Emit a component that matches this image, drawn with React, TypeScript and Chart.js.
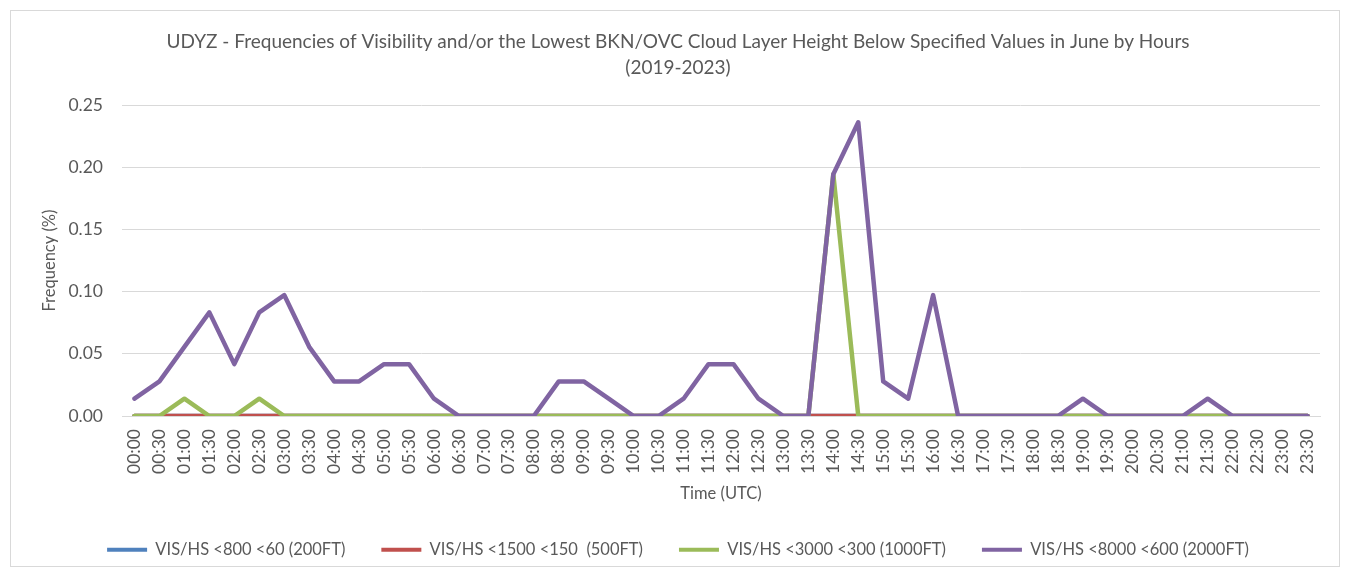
import React, { useEffect, useRef } from "react";
import { Chart, registerables } from "chart.js";
Chart.register(...registerables);

const times = [
  "00:00", "00:30", "01:00", "01:30", "02:00", "02:30", "03:00", "03:30",
  "04:00", "04:30", "05:00", "05:30", "06:00", "06:30", "07:00", "07:30",
  "08:00", "08:30", "09:00", "09:30", "10:00", "10:30", "11:00", "11:30",
  "12:00", "12:30", "13:00", "13:30", "14:00", "14:30", "15:00", "15:30",
  "16:00", "16:30", "17:00", "17:30", "18:00", "18:30", "19:00", "19:30",
  "20:00", "20:30", "21:00", "21:30", "22:00", "22:30", "23:00", "23:30",
];

const vis800 = [
  0, 0, 0, 0, 0, 0, 0, 0, 0, 0, 0, 0, 0, 0, 0, 0,
  0, 0, 0, 0, 0, 0, 0, 0, 0, 0, 0, 0, 0, 0, 0, 0,
  0, 0, 0, 0, 0, 0, 0, 0, 0, 0, 0, 0, 0, 0, 0, 0,
];
const vis1500 = [
  0, 0, 0, 0, 0, 0, 0, 0, 0, 0, 0, 0, 0, 0, 0, 0,
  0, 0, 0, 0, 0, 0, 0, 0, 0, 0, 0, 0, 0, 0, 0, 0,
  0, 0, 0, 0, 0, 0, 0, 0, 0, 0, 0, 0, 0, 0, 0, 0,
];
const vis3000 = [
  0, 0, 0.0139, 0, 0, 0.0139, 0, 0, 0, 0, 0, 0, 0, 0, 0, 0,
  0, 0, 0, 0, 0, 0, 0, 0, 0, 0, 0, 0, 0.1944, 0, 0, 0,
  0, 0, 0, 0, 0, 0, 0, 0, 0, 0, 0, 0, 0, 0, 0, 0,
];
const vis8000 = [
  0.0139, 0.0278, 0.0556, 0.0833, 0.0417, 0.0833, 0.0972, 0.0556,
  0.0278, 0.0278, 0.0417, 0.0417, 0.0139, 0, 0, 0,
  0, 0.0278, 0.0278, 0.0139, 0, 0, 0.0139, 0.0417,
  0.0417, 0.0139, 0, 0, 0.1944, 0.2361, 0.0278, 0.0139,
  0.0972, 0, 0, 0, 0, 0, 0.0139, 0,
  0, 0, 0, 0.0139, 0, 0, 0, 0,
];

const yTicks = [0, 0.05, 0.1, 0.15, 0.2, 0.25];

const seriesNames = [
  "VIS/HS <800 <60 (200FT)",
  "VIS/HS <1500 <150  (500FT)",
  "VIS/HS <3000 <300 (1000FT)",
  "VIS/HS <8000 <600 (2000FT)",
];
const seriesColors = ["#4f81bd", "#c0504d", "#9bbb59", "#8064a2"];

const FONT = "Lato, 'Open Sans', sans-serif";
const TEXT = "#595959";

export default function App() {
  const ref = useRef<HTMLCanvasElement | null>(null);

  useEffect(() => {
    if (!ref.current) return;
    const values = [vis800, vis1500, vis3000, vis8000];
    const chart = new Chart(ref.current, {
      type: "line",
      data: {
        labels: times,
        datasets: values.map((v, i) => ({
          label: seriesNames[i],
          data: v,
          order: values.length - 1 - i,
          borderColor: seriesColors[i],
          backgroundColor: seriesColors[i],
          borderWidth: 4.5,
          pointRadius: 0,
          pointHoverRadius: 0,
          tension: 0,
          borderJoinStyle: "round" as const,
          borderCapStyle: "round" as const,
        })),
      },
      options: {
        animation: false,
        responsive: false,
        devicePixelRatio: 1,
        layout: { padding: { top: 29, left: 36, right: 29, bottom: 9 } },
        plugins: {
          title: {
            display: true,
            text: [
              "UDYZ - Frequencies of Visibility and/or the Lowest BKN/OVC Cloud Layer Height Below Specified Values in June by Hours",
              "(2019-2023)",
            ],
            color: TEXT,
            font: { family: FONT, size: 19, weight: "normal", lineHeight: 26 / 19 },
            padding: { top: 0, bottom: 24 },
          },
          legend: {
            position: "bottom",
            labels: {
              color: TEXT,
              font: { family: FONT, size: 16.5 },
              boxWidth: 40,
              boxHeight: 4,
              padding: 36,
              generateLabels: (c) =>
                c.data.datasets.map((d, i) => ({
                  text: d.label as string,
                  fillStyle: seriesColors[i],
                  strokeStyle: seriesColors[i],
                  lineWidth: 0,
                  hidden: false,
                  datasetIndex: i,
                  fontColor: TEXT,
                })),
            },
          },
          tooltip: { enabled: false },
        },
        scales: {
          x: {
            offset: true,
            afterFit: (s) => {
              s.height = 89.5;
            },
            grid: { display: false, drawTicks: false },
            border: { display: true, color: "#d9d9d9", width: 1 },
            ticks: {
              color: TEXT,
              font: { family: FONT, size: 17.5 },
              minRotation: 90,
              maxRotation: 90,
              autoSkip: false,
              padding: 13,
            },
            title: {
              display: true,
              text: "Time (UTC)",
              color: TEXT,
              font: { family: FONT, size: 16.5 },
              padding: { top: 0, bottom: 1.5 },
            },
          },
          y: {
            min: 0,
            max: 0.25,
            afterFit: (s) => {
              s.width = 86;
            },
            afterBuildTicks: (s) => {
              s.ticks = yTicks.map((v) => ({ value: v }));
            },
            grid: { color: "#d9d9d9", lineWidth: 1, drawTicks: false },
            border: { display: false },
            ticks: {
              color: TEXT,
              font: { family: FONT, size: 17.5 },
              padding: 19,
              callback: (v) => Number(v).toFixed(2),
            },
            title: {
              display: true,
              text: "Frequency (%)",
              color: TEXT,
              font: { family: FONT, size: 16.5 },
              padding: { top: 4, bottom: 0 },
            },
          },
        },
      },
    });
    return () => chart.destroy();
  }, []);

  return (
    <div
      style={{
        position: "absolute",
        left: 0,
        top: 0,
        width: 1349,
        height: 577,
        background: "#ffffff",
      }}
    >
      <div
        style={{
          position: "absolute",
          left: 10,
          top: 10,
          width: 1330,
          height: 557,
          boxSizing: "border-box",
          border: "1px solid #d9d9d9",
        }}
      />
      <canvas
        ref={ref}
        width={1349}
        height={577}
        style={{ display: "block", position: "absolute", left: 0, top: 0 }}
      />
    </div>
  );
}
